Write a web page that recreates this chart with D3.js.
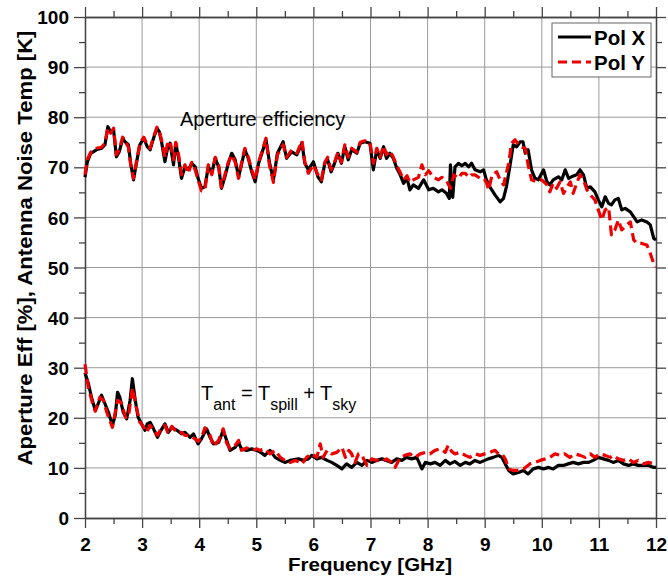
<!DOCTYPE html>
<html><head><meta charset="utf-8">
<script src="https://cdn.jsdelivr.net/npm/d3@7/dist/d3.min.js"></script>
<style>body{margin:0;background:#fff}svg{display:block}</style>
</head><body><svg id="c" width="668" height="578"></svg>
<script>
const xTicks = [2,3,4,5,6,7,8,9,10,11,12];
const yTicks = [0,10,20,30,40,50,60,70,80,90,100];
const seriesNames = ["Pol X","Pol Y"];
const apertureX = [[2.00,68.0],[2.04,71.0],[2.10,72.8],[2.20,73.5],[2.29,73.8],[2.35,74.5],[2.40,78.1],[2.45,77.1],[2.50,77.5],[2.55,72.1],[2.60,73.1],[2.66,75.8],[2.70,75.1],[2.76,74.5],[2.80,70.8],[2.85,67.5],[2.90,70.8],[2.96,74.5],[3.03,75.8],[3.09,74.1],[3.14,73.5],[3.20,75.8],[3.26,77.8],[3.30,77.1],[3.34,75.1],[3.40,71.1],[3.44,73.5],[3.49,74.8],[3.55,70.5],[3.59,74.8],[3.64,71.8],[3.69,67.8],[3.75,70.1],[3.81,69.5],[3.87,70.8],[3.93,70.1],[3.98,67.8],[4.04,65.8],[4.10,66.1],[4.16,70.1],[4.22,68.8],[4.28,71.8],[4.34,70.1],[4.39,65.8],[4.45,68.1],[4.51,70.8],[4.57,72.8],[4.63,71.5],[4.69,68.1],[4.74,70.5],[4.80,73.5],[4.86,71.8],[4.92,69.1],[4.98,67.1],[5.04,70.8],[5.09,72.5],[5.17,75.5],[5.23,71.0],[5.30,67.5],[5.37,72.8],[5.47,75.1],[5.53,71.8],[5.62,73.1],[5.71,72.5],[5.80,74.8],[5.85,70.8],[5.91,69.5],[6.00,71.1],[6.08,68.1],[6.14,67.1],[6.20,70.8],[6.25,71.5],[6.31,69.1],[6.37,70.8],[6.43,72.8],[6.49,70.8],[6.55,74.1],[6.61,71.5],[6.67,73.5],[6.76,72.8],[6.82,74.8],[6.90,75.1],[6.99,74.8],[7.05,69.5],[7.11,73.5],[7.17,71.8],[7.23,74.1],[7.28,71.8],[7.34,72.8],[7.40,71.8],[7.46,69.8],[7.52,68.5],[7.58,66.8],[7.64,67.8],[7.69,65.5],[7.75,66.5],[7.84,65.8],[7.93,67.5],[8.02,65.5],[8.10,65.8],[8.19,65.1],[8.25,65.5],[8.33,64.8],[8.38,63.8],[8.40,70.5],[8.44,64.0],[8.48,70.1],[8.54,70.8],[8.60,70.3],[8.66,70.8],[8.72,70.1],[8.77,70.8],[8.83,69.5],[8.92,69.1],[8.98,69.5],[9.03,67.5],[9.09,66.1],[9.18,64.5],[9.27,63.1],[9.33,63.8],[9.38,66.1],[9.44,70.1],[9.50,74.5],[9.56,74.1],[9.62,75.1],[9.67,75.1],[9.71,72.8],[9.76,73.5],[9.82,69.5],[9.88,67.8],[9.94,67.5],[10.03,69.5],[10.09,67.1],[10.14,66.5],[10.20,67.5],[10.29,68.1],[10.35,67.5],[10.41,69.5],[10.47,67.8],[10.52,68.1],[10.61,68.5],[10.67,69.5],[10.73,68.5],[10.79,65.8],[10.85,66.1],[10.93,65.1],[10.99,63.5],[11.05,62.1],[11.11,64.1],[11.17,62.8],[11.22,62.5],[11.28,63.5],[11.34,63.8],[11.40,61.5],[11.46,61.8],[11.55,61.1],[11.61,60.1],[11.67,59.1],[11.75,59.5],[11.84,59.1],[11.90,58.5],[11.96,55.8],[12.00,55.5]];
const apertureY = [[2.00,68.5],[2.04,71.5],[2.10,73.0],[2.20,73.8],[2.29,74.0],[2.35,74.8],[2.40,77.8],[2.45,76.8],[2.50,77.8],[2.55,72.5],[2.60,73.5],[2.66,76.0],[2.70,75.3],[2.76,74.0],[2.80,70.5],[2.85,67.8],[2.90,71.0],[2.96,74.8],[3.03,76.0],[3.09,74.5],[3.14,73.8],[3.20,76.0],[3.26,78.0],[3.30,77.3],[3.34,75.5],[3.40,72.0],[3.44,74.5],[3.49,75.3],[3.55,71.5],[3.59,75.0],[3.64,72.5],[3.69,68.5],[3.75,70.5],[3.81,68.8],[3.87,71.0],[3.93,69.5],[3.98,67.5],[4.04,65.3],[4.10,65.5],[4.16,70.5],[4.22,68.5],[4.28,72.0],[4.34,70.5],[4.39,66.0],[4.45,68.5],[4.51,71.0],[4.57,72.5],[4.63,71.0],[4.69,67.8],[4.74,70.8],[4.80,73.8],[4.86,72.0],[4.92,69.5],[4.98,67.5],[5.04,71.0],[5.09,72.8],[5.17,75.8],[5.23,70.5],[5.30,67.0],[5.37,72.5],[5.47,74.5],[5.53,72.0],[5.62,73.5],[5.71,72.8],[5.80,75.3],[5.85,71.0],[5.91,68.8],[6.00,70.5],[6.08,68.5],[6.14,67.5],[6.20,71.0],[6.25,72.0],[6.31,69.5],[6.37,71.0],[6.43,73.0],[6.49,71.0],[6.55,74.5],[6.61,72.0],[6.67,73.8],[6.76,73.0],[6.82,75.0],[6.90,75.3],[6.99,75.0],[7.05,70.8],[7.11,73.8],[7.17,72.0],[7.23,74.3],[7.28,72.5],[7.34,73.3],[7.40,72.0],[7.46,70.3],[7.52,69.0],[7.58,67.5],[7.64,68.3],[7.69,67.0],[7.75,67.5],[7.84,68.0],[7.90,70.5],[7.96,68.5],[8.02,69.3],[8.10,68.0],[8.19,67.5],[8.25,68.0],[8.33,67.3],[8.40,65.8],[8.46,68.5],[8.54,67.8],[8.60,68.8],[8.66,68.8],[8.72,68.0],[8.77,68.5],[8.83,68.5],[8.92,67.8],[8.98,67.8],[9.03,67.0],[9.07,65.5],[9.13,68.5],[9.21,69.1],[9.27,67.5],[9.33,66.5],[9.42,70.8],[9.47,74.8],[9.53,75.5],[9.62,74.1],[9.71,73.8],[9.76,70.5],[9.82,67.5],[9.91,67.1],[10.00,67.5],[10.09,66.5],[10.14,65.1],[10.20,66.8],[10.26,65.8],[10.32,67.1],[10.38,64.8],[10.44,66.0],[10.50,67.1],[10.55,64.8],[10.61,66.8],[10.67,68.5],[10.73,67.5],[10.79,65.5],[10.85,64.5],[10.93,63.5],[10.99,61.5],[11.05,59.5],[11.11,61.5],[11.17,62.0],[11.22,56.5],[11.28,57.5],[11.34,59.5],[11.40,57.5],[11.49,58.5],[11.55,59.1],[11.61,55.5],[11.67,54.8],[11.75,54.8],[11.84,54.5],[11.90,52.8],[11.96,50.8],[12.00,50.1]];
const tantX = [[2.00,29.0],[2.06,26.8],[2.12,23.8],[2.18,21.5],[2.23,22.8],[2.29,24.5],[2.35,22.8],[2.41,21.1],[2.48,18.5],[2.53,20.5],[2.57,25.1],[2.61,24.1],[2.67,21.1],[2.73,19.8],[2.79,23.5],[2.83,27.8],[2.88,23.5],[2.93,20.1],[2.99,18.8],[3.05,17.5],[3.09,18.8],[3.14,19.1],[3.20,17.8],[3.27,16.1],[3.33,17.5],[3.40,18.8],[3.46,17.1],[3.52,18.1],[3.61,17.5],[3.69,16.8],[3.75,17.1],[3.84,16.1],[3.90,16.8],[3.98,14.8],[4.04,15.8],[4.13,17.8],[4.19,16.1],[4.25,14.8],[4.34,15.1],[4.42,17.5],[4.48,15.5],[4.54,13.5],[4.63,14.1],[4.69,15.1],[4.74,13.8],[4.83,13.5],[4.92,13.8],[5.01,13.5],[5.09,13.0],[5.15,12.5],[5.24,13.5],[5.33,12.1],[5.42,11.5],[5.50,11.1],[5.59,11.5],[5.74,11.8],[5.82,11.5],[5.91,11.8],[5.97,12.5],[6.06,11.8],[6.14,12.1],[6.24,11.5],[6.32,11.1],[6.41,10.5],[6.50,9.8],[6.58,10.8],[6.67,10.1],[6.76,11.1],[6.85,10.5],[6.94,11.5],[7.02,11.1],[7.11,11.5],[7.20,11.8],[7.28,11.5],[7.37,11.1],[7.46,11.8],[7.55,11.5],[7.63,12.1],[7.72,11.8],[7.81,12.1],[7.90,9.8],[7.96,11.1],[8.05,10.8],[8.13,11.1],[8.22,10.5],[8.31,11.5],[8.39,10.8],[8.48,11.3],[8.57,10.5],[8.66,11.1],[8.74,10.8],[8.83,11.5],[8.92,11.1],[9.00,11.5],[9.06,11.8],[9.15,12.1],[9.24,12.5],[9.30,12.1],[9.36,10.8],[9.42,9.5],[9.50,8.8],[9.59,9.1],[9.68,9.5],[9.76,8.8],[9.85,9.8],[9.94,10.1],[10.03,9.8],[10.12,10.1],[10.20,9.8],[10.29,10.5],[10.38,10.5],[10.46,10.8],[10.55,11.1],[10.64,10.8],[10.73,11.1],[10.82,11.1],[10.90,11.5],[10.99,12.1],[11.08,11.8],[11.17,11.5],[11.25,11.1],[11.34,11.5],[11.43,10.8],[11.52,10.5],[11.60,10.8],[11.69,10.5],[11.78,10.5],[11.87,10.5],[11.96,10.1],[12.00,10.1]];
const tantY = [[2.00,30.7],[2.06,26.0],[2.13,23.0],[2.18,21.3],[2.26,24.1],[2.32,23.5],[2.39,20.8],[2.48,18.1],[2.57,23.5],[2.63,23.1],[2.71,20.1],[2.76,20.1],[2.83,26.0],[2.90,22.1],[2.96,19.1],[3.02,18.3],[3.08,17.1],[3.14,18.5],[3.20,17.5],[3.27,16.5],[3.33,17.8],[3.40,18.5],[3.46,16.8],[3.52,18.3],[3.61,17.0],[3.69,17.1],[3.75,16.5],[3.84,16.5],[3.90,16.0],[3.98,15.3],[4.04,16.0],[4.10,18.0],[4.19,16.5],[4.25,14.3],[4.34,15.5],[4.42,17.8],[4.48,15.0],[4.54,13.8],[4.63,14.5],[4.69,15.5],[4.74,13.5],[4.83,14.0],[4.92,13.5],[5.01,13.8],[5.06,13.5],[5.15,13.8],[5.24,12.8],[5.33,13.5],[5.42,12.1],[5.50,11.5],[5.59,11.1],[5.68,11.5],[5.77,11.1],[5.80,10.8],[5.88,12.1],[5.97,12.8],[6.06,12.1],[6.12,14.8],[6.17,12.1],[6.24,13.5],[6.32,12.8],[6.41,13.1],[6.50,14.1],[6.56,12.1],[6.62,13.5],[6.67,12.8],[6.73,11.1],[6.79,12.8],[6.85,12.5],[6.94,10.5],[7.02,11.8],[7.11,11.5],[7.20,11.3],[7.28,11.8],[7.37,11.1],[7.43,10.1],[7.52,12.1],[7.60,12.5],[7.69,12.8],[7.78,12.1],[7.87,12.8],[7.96,13.1],[8.04,12.8],[8.13,13.5],[8.22,13.8],[8.31,13.1],[8.36,14.5],[8.42,13.3],[8.48,12.8],[8.57,13.1],[8.66,12.5],[8.74,12.1],[8.83,12.8],[8.92,12.5],[9.00,12.8],[9.09,13.1],[9.18,13.5],[9.24,12.8],[9.30,12.8],[9.36,11.8],[9.42,9.8],[9.50,9.5],[9.59,9.5],[9.68,9.8],[9.79,10.8],[9.88,11.1],[9.97,11.5],[10.06,11.8],[10.14,12.1],[10.23,12.8],[10.32,12.5],[10.40,12.8],[10.49,12.1],[10.58,12.8],[10.67,12.5],[10.76,12.1],[10.85,12.8],[10.93,12.1],[11.02,12.8],[11.11,12.5],[11.20,12.1],[11.25,12.5],[11.34,11.8],[11.43,11.5],[11.52,11.8],[11.60,11.1],[11.69,11.5],[11.78,10.8],[11.87,11.1],[11.96,10.8],[12.00,11.1]];

const svg = d3.select("#c");
const L = 85, R = 656, T = 17, B = 518;
const x = d3.scaleLinear().domain([2,12]).range([L,R]);
const y = d3.scaleLinear().domain([0,100]).range([B,T]);
const FONT = "'Liberation Sans', Arial, Helvetica, sans-serif";

// grid
const g = svg.append("g");
g.selectAll(".vg").data(xTicks.slice(1,-1)).enter().append("line")
  .attr("x1",d=>x(d)).attr("x2",d=>x(d)).attr("y1",T).attr("y2",B)
  .attr("stroke","#9a9a9a").attr("stroke-width",1);
g.selectAll(".hg").data(yTicks.slice(1,-1)).enter().append("line")
  .attr("y1",d=>y(d)).attr("y2",d=>y(d)).attr("x1",L).attr("x2",R)
  .attr("stroke","#9a9a9a").attr("stroke-width",1);

// axes with outward ticks
const minorX = d3.range(2.5,12,1);
const minorY = d3.range(5,100,10);
const axStyle = sel => { sel.select(".domain").attr("stroke","#444").attr("stroke-width",1.3);
  sel.selectAll(".tick line").attr("stroke","#444").attr("stroke-width",1.3); };
const bottom = svg.append("g").attr("transform",`translate(0,${B})`)
  .call(d3.axisBottom(x).tickValues(xTicks).tickSize(10).tickSizeOuter(0).tickPadding(10).tickFormat(d3.format("d")));
bottom.call(axStyle);
bottom.selectAll("text").attr("font-family",FONT).attr("font-weight","bold").attr("font-size",19).attr("fill","#000");
svg.append("g").attr("transform",`translate(0,${B})`).call(d3.axisBottom(x).tickValues(minorX).tickSize(6).tickSizeOuter(0).tickFormat("")).call(axStyle);
const left = svg.append("g").attr("transform",`translate(${L},0)`)
  .call(d3.axisLeft(y).tickValues(yTicks).tickSize(11).tickSizeOuter(0).tickPadding(5));
left.call(axStyle);
left.selectAll("text").attr("font-family",FONT).attr("font-weight","bold").attr("font-size",19).attr("fill","#000").attr("dy","0.35em");
svg.append("g").attr("transform",`translate(${L},0)`).call(d3.axisLeft(y).tickValues(minorY).tickSize(6).tickSizeOuter(0).tickFormat("")).call(axStyle);
svg.append("g").attr("transform",`translate(0,${T})`).call(d3.axisTop(x).tickValues(xTicks).tickSize(10).tickSizeOuter(0).tickFormat("")).call(axStyle);
svg.append("g").attr("transform",`translate(0,${T})`).call(d3.axisTop(x).tickValues(minorX).tickSize(6).tickSizeOuter(0).tickFormat("")).call(axStyle);
svg.append("g").attr("transform",`translate(${R},0)`).call(d3.axisRight(y).tickValues(yTicks).tickSize(10).tickSizeOuter(0).tickFormat("")).call(axStyle);
svg.append("g").attr("transform",`translate(${R},0)`).call(d3.axisRight(y).tickValues(minorY).tickSize(6).tickSizeOuter(0).tickFormat("")).call(axStyle);

// curves
const line = d3.line().x(d=>x(d[0])).y(d=>y(d[1]));
const blk = {stroke:"#000", dash:null}, red = {stroke:"#ee0000", dash:"10,5"};
[[apertureX,blk],[tantX,blk],[apertureY,red],[tantY,red]].forEach(([data,st])=>{
  svg.append("path").datum(data).attr("d",line).attr("fill","none")
    .attr("stroke",st.stroke).attr("stroke-width",3.2).attr("stroke-linejoin","round")
    .attr("stroke-dasharray",st.dash);
});

// annotations
svg.append("text").attr("x",180).attr("y",126).attr("font-family",FONT).attr("font-size",20).text("Aperture efficiency");
const ta = svg.append("text").attr("x",201).attr("y",400).attr("font-family",FONT).attr("font-size",20);
ta.append("tspan").text("T");
ta.append("tspan").attr("dy",10).attr("font-size",16).text("ant");
ta.append("tspan").attr("dy",-10).text(" = T");
ta.append("tspan").attr("dy",10).attr("font-size",16).text("spill");
ta.append("tspan").attr("dy",-10).text(" + T");
ta.append("tspan").attr("dy",10).attr("font-size",16).text("sky");

// legend
const lg = svg.append("g");
lg.append("rect").attr("x",552).attr("y",23).attr("width",99).attr("height",54).attr("fill","#fff").attr("stroke","#666").attr("stroke-width",1);
seriesNames.forEach((n,i)=>{
  const st = i===0?blk:red; const yy = 37 + i*25;
  lg.append("line").attr("x1",558).attr("x2",591).attr("y1",yy).attr("y2",yy)
    .attr("stroke",st.stroke).attr("stroke-width",3.2).attr("stroke-dasharray",i===0?null:"9,5");
  lg.append("text").attr("x",594).attr("y",yy+8).attr("font-family",FONT).attr("font-weight","bold").attr("font-size",20.5).text(n);
});

// axis titles
svg.append("text").attr("x",370).attr("y",571).attr("text-anchor","middle").attr("font-family",FONT).attr("font-weight","bold").attr("font-size",19)
  .attr("textLength",164).attr("lengthAdjust","spacingAndGlyphs").text("Frequency [GHz]");
svg.append("text").attr("transform",`translate(32,248) rotate(-90)`).attr("text-anchor","middle").attr("font-family",FONT).attr("font-weight","bold").attr("font-size",21)
  .attr("textLength",435).attr("lengthAdjust","spacingAndGlyphs").text("Aperture Eff [%], Antenna Noise Temp [K]");
</script></body></html>
